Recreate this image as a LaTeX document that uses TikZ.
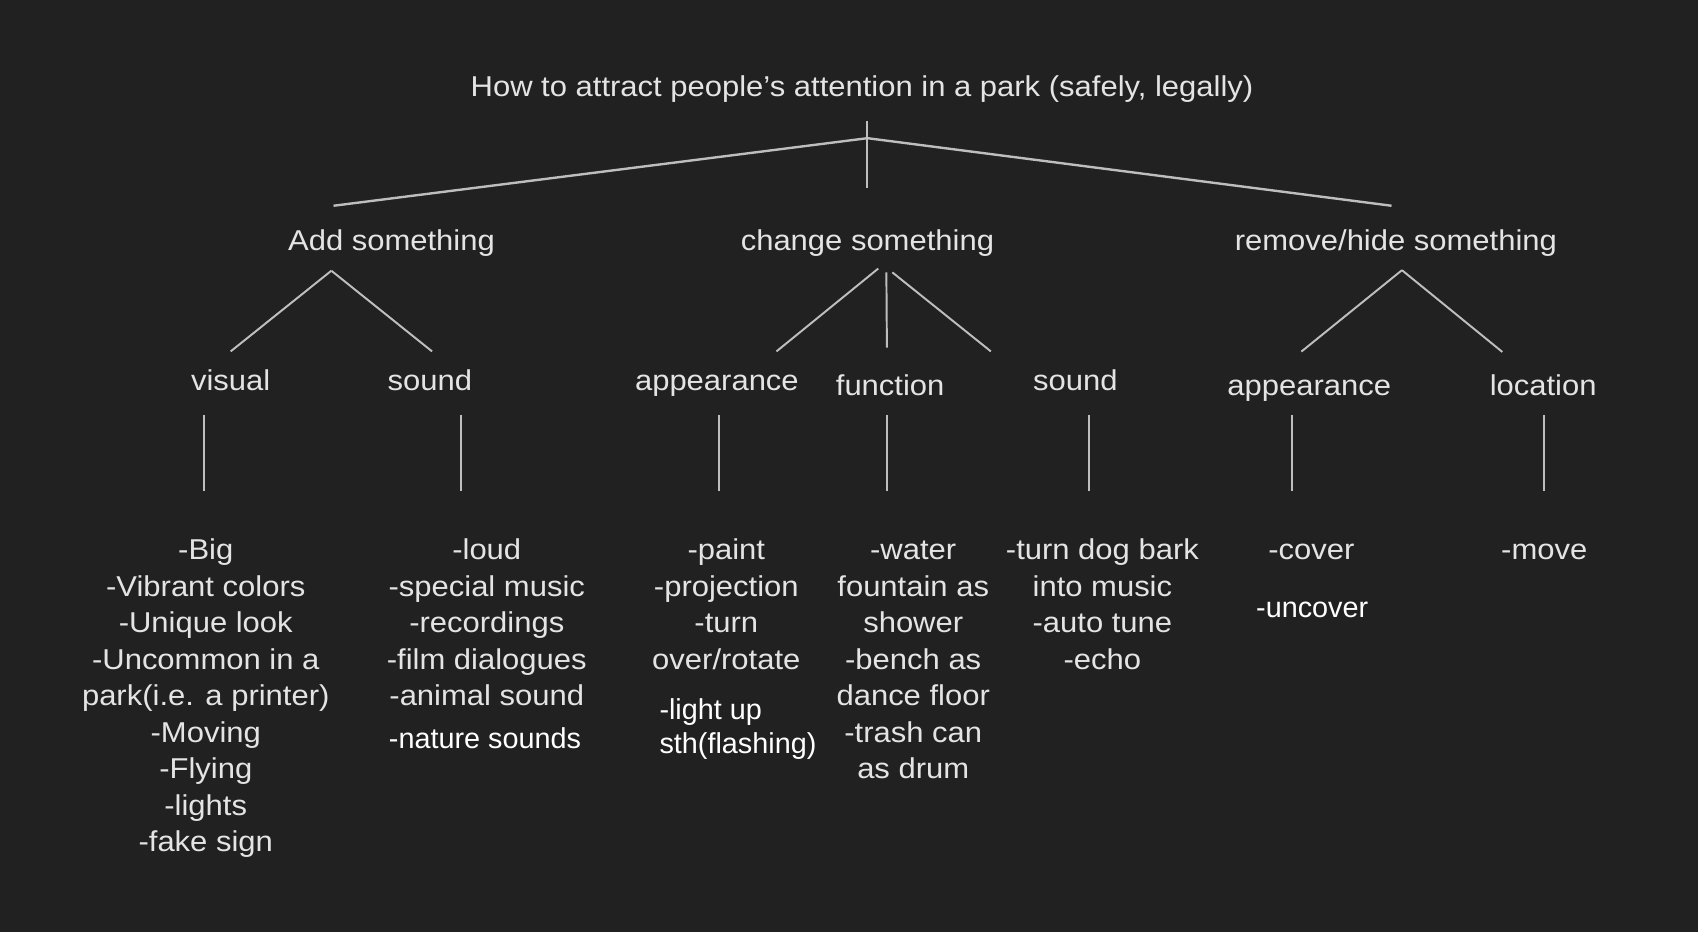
\documentclass[tikz,border=0pt]{standalone}
\usepackage{fontspec}
\setmainfont{Liberation Sans}
\newfontfamily\stretchfont{Liberation Sans}[FakeStretch=1.08]
\definecolor{bg}{HTML}{212121}
\definecolor{txt}{HTML}{E4E4E4}
\definecolor{ln}{HTML}{BEBEBE}
\tikzset{
  lbl/.style={inner sep=0pt, text=txt, font=\stretchfont\fontsize{26.5}{33.7}\selectfont, anchor=base},
  grp/.style={lbl, align=center},
  wht/.style={inner sep=0pt, text=white, font=\fontsize{26.6}{31}\selectfont, align=left, anchor=base west},
  conn/.style={draw=ln, line width=1.8pt},
  connb/.style={draw=ln, line width=2.2pt}
}
\begin{document}
\begin{tikzpicture}[x=1pt,y=-1pt]
\path[fill=bg] (0,0) rectangle (1568,861);
\useasboundingbox (0,0) rectangle (1568,861);

% title and level 1
\node[lbl] (title) at (796,89.3) {How to attract people’s attention in a park (safely, legally)};
\node[lbl] (add) at (361.5,231) {Add something};
\node[lbl] (chg) at (801,231) {change something};
\node[lbl] (rem) at (1289,231) {remove/hide something};

% level 2
\node[lbl] (vis) at (213,361) {visual};
\node[lbl] (snd) at (397,361) {sound};
\node[lbl] (app) at (662,361) {appearance};
\node[lbl] (fun) at (822,365.5) {function};
\node[lbl] (snd2) at (993,361) {sound};
\node[lbl] (app2) at (1209,365.5) {appearance};
\node[lbl] (loc) at (1425,365.5) {location};

% leaves (multi-line nodes: base anchor is the baseline of the last line)
\node[grp] (visL) at (190,786.6) {-Big\\-Vibrant colors\\-Unique look\\-Uncommon in a\\park(i.e. a printer)\\-Moving\\-Flying\\-lights\\-fake sign};
\node[grp] (sndL) at (449.5,651.8) {-loud\\-special music\\-recordings\\-film dialogues\\-animal sound};
\node[wht] (sndW) at (359,691.5) {-nature sounds};
\node[grp] (appL) at (670.7,618.1) {-paint\\-projection\\-turn\\over/rotate};
\node[wht] (appW) at (608.8,695.5) {-light up\\sth(flashing)};
\node[grp] (funL) at (843.3,719.2) {-water\\fountain as\\shower\\-bench as\\dance floor\\-trash can\\as drum};
\node[grp] (snd2L) at (1018,618.1) {-turn dog bark\\into music\\-auto tune\\-echo};
\node[grp] (app2L) at (1211,517) {-cover};
\node[wht] (app2W) at (1159.8,570.5) {-uncover};
\node[grp] (locL) at (1426,517) {-move};

% connector end points
\coordinate (tTop) at (801,112);
\coordinate (tBot) at (801,174);
\coordinate (tApex) at (801,127.6);
\coordinate (addTop) at (308,190);
\coordinate (remTop) at (1285,190);

\coordinate (addA) at (306,250);
\coordinate (visT) at (213,324.5);
\coordinate (sndT) at (399,324.5);

\coordinate (chgA) at (811,248);
\coordinate (appT) at (717,324.5);
\coordinate (chgB) at (818.5,251.5);
\coordinate (funT) at (819,321);
\coordinate (chgC) at (824,251.5);
\coordinate (snd2T) at (915,324.5);

\coordinate (remA) at (1294.6,249.5);
\coordinate (app2T) at (1201.7,324.7);
\coordinate (locT) at (1387.3,325);

\foreach \n/\x in {vis/188, snd/426, app/664, fun/819, snd2/1006, app2/1193, loc/1426}{
  \coordinate (\n B1) at (\x,383);
  \coordinate (\n B2) at (\x,453.5);
}

% connectors
\draw[conn] (tTop) -- (tBot);
\draw[connb] (tApex) -- (addTop);
\draw[connb] (tApex) -- (remTop);
\draw[conn] (addA) -- (visT);
\draw[conn] (addA) -- (sndT);
\draw[conn] (chgA) -- (appT);
\draw[conn] (chgB) -- (funT);
\draw[conn] (chgC) -- (snd2T);
\draw[conn] (remA) -- (app2T);
\draw[conn] (remA) -- (locT);
\foreach \n in {vis, snd, app, fun, snd2, app2, loc}{
  \draw[conn] (\n B1) -- (\n B2);
}
\end{tikzpicture}
\end{document}
